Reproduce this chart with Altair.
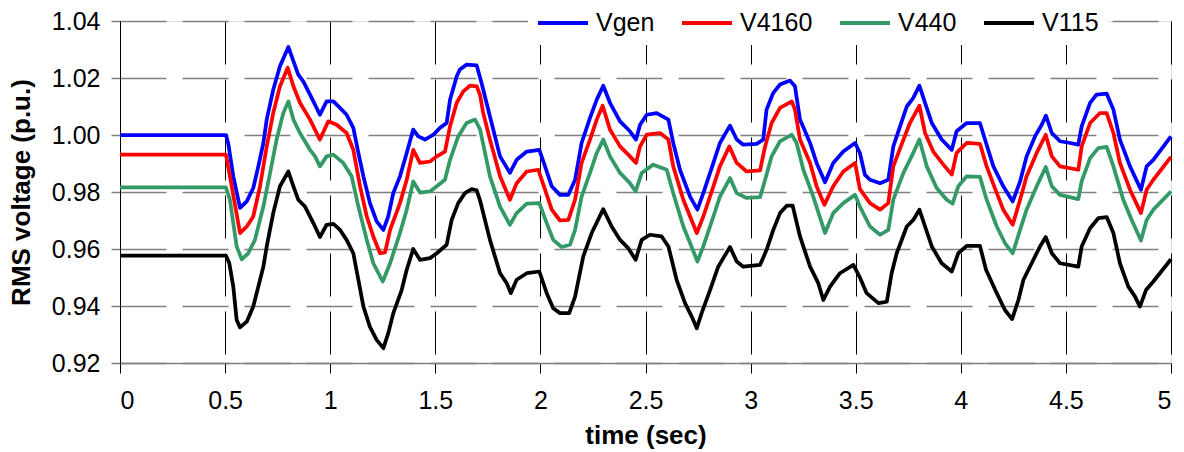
import altair as alt
import pandas as pd

series = ["Vgen", "V4160", "V440", "V115"]
colors = ["#0000FF", "#FF0000", "#339966", "#000000"]

x_ticks = [0, 0.5, 1, 1.5, 2, 2.5, 3, 3.5, 4, 4.5, 5]
y_ticks = [0.92, 0.94, 0.96, 0.98, 1.00, 1.02, 1.04]

t_vgen = [0, 0.504, 0.515, 0.539, 0.571, 0.603, 0.634, 0.658, 0.682, 0.698, 0.729, 0.761, 0.801, 0.825, 0.848, 0.872, 0.920, 0.951, 0.983, 1.015, 1.047, 1.078, 1.110, 1.134, 1.158, 1.189, 1.221, 1.253, 1.276, 1.300, 1.332, 1.364, 1.395, 1.419, 1.451, 1.491, 1.522, 1.554, 1.570, 1.602, 1.617, 1.649, 1.697, 1.721, 1.760, 1.808, 1.855, 1.887, 1.935, 1.995, 2.022, 2.054, 2.093, 2.133, 2.165, 2.196, 2.236, 2.268, 2.299, 2.331, 2.379, 2.426, 2.455, 2.474, 2.506, 2.553, 2.609, 2.632, 2.664, 2.712, 2.747, 2.775, 2.823, 2.854, 2.902, 2.934, 2.965, 3.029, 3.060, 3.076, 3.108, 3.140, 3.187, 3.211, 3.235, 3.283, 3.314, 3.354, 3.393, 3.441, 3.497, 3.520, 3.544, 3.568, 3.616, 3.655, 3.679, 3.711, 3.743, 3.774, 3.803, 3.830, 3.862, 3.909, 3.957, 3.980, 4.028, 4.091, 4.115, 4.155, 4.202, 4.247, 4.282, 4.313, 4.353, 4.385, 4.405, 4.433, 4.472, 4.520, 4.559, 4.575, 4.615, 4.646, 4.694, 4.726, 4.757, 4.805, 4.857, 4.884, 4.916, 5.0]
v_vgen = [1.000, 1.000, 0.997, 0.9855, 0.9744, 0.9767, 0.9814, 0.989, 0.9972, 1.0054, 1.0159, 1.0241, 1.0309, 1.0259, 1.0212, 1.0188, 1.0118, 1.0071, 1.0118, 1.0118, 1.0095, 1.0071, 1.0025, 0.9937, 0.9855, 0.9761, 0.9697, 0.9667, 0.9714, 0.9796, 0.9855, 0.9937, 1.0019, 0.9995, 0.9984, 1.0001, 1.0025, 1.0042, 1.0124, 1.0206, 1.0230, 1.0247, 1.0244, 1.0180, 1.0065, 0.9925, 0.9867, 0.9913, 0.9942, 0.9948, 0.9890, 0.9820, 0.9790, 0.9790, 0.9843, 0.9972, 1.0060, 1.0124, 1.0173, 1.0113, 1.0048, 1.0013, 0.9984, 1.0036, 1.0071, 1.0077, 1.0054, 0.9972, 0.9878, 0.9784, 0.9738, 0.9796, 0.9902, 0.9972, 1.0033, 0.9984, 0.9966, 0.9969, 0.9984, 1.0089, 1.0148, 1.0177, 1.0191, 1.0171, 1.0054, 0.9972, 0.9902, 0.9834, 0.9902, 0.9942, 0.9972, 0.9937, 0.9860, 0.9843, 0.9831, 0.9843, 0.9960, 1.0030, 1.0100, 1.0130, 1.0173, 1.0113, 1.0042, 0.9984, 0.9948, 1.0013, 1.0042, 1.0042, 0.9984, 0.9890, 0.9820, 0.9767, 0.9837, 0.9925, 0.9995, 1.0036, 1.0068, 1.0007, 0.9978, 0.9972, 0.9966, 1.0030, 1.0113, 1.0142, 1.0145, 1.0089, 0.9984, 0.9890, 0.9808, 0.9890, 0.9913, 0.9995]

t_v4160 = [0, 0.504, 0.523, 0.571, 0.603, 0.634, 0.666, 0.698, 0.729, 0.761, 0.798, 0.825, 0.856, 0.904, 0.951, 0.991, 1.031, 1.078, 1.110, 1.142, 1.174, 1.205, 1.237, 1.261, 1.285, 1.332, 1.364, 1.395, 1.427, 1.475, 1.507, 1.546, 1.570, 1.602, 1.633, 1.665, 1.697, 1.713, 1.728, 1.760, 1.808, 1.855, 1.887, 1.935, 1.990, 2.022, 2.054, 2.093, 2.133, 2.165, 2.196, 2.236, 2.268, 2.296, 2.331, 2.379, 2.426, 2.455, 2.474, 2.506, 2.569, 2.609, 2.632, 2.680, 2.712, 2.744, 2.775, 2.823, 2.854, 2.899, 2.934, 2.981, 3.045, 3.069, 3.100, 3.140, 3.196, 3.211, 3.235, 3.283, 3.314, 3.351, 3.393, 3.441, 3.497, 3.520, 3.568, 3.616, 3.655, 3.679, 3.727, 3.758, 3.803, 3.830, 3.869, 3.917, 3.957, 3.980, 4.028, 4.091, 4.123, 4.171, 4.202, 4.247, 4.282, 4.313, 4.361, 4.404, 4.433, 4.472, 4.559, 4.575, 4.615, 4.662, 4.694, 4.726, 4.757, 4.805, 4.857, 4.884, 4.916, 5.0]
v_v4160 = [0.9931, 0.9931, 0.9855, 0.9656, 0.9679, 0.9714, 0.9820, 0.9960, 1.0077, 1.0171, 1.0236, 1.0171, 1.0113, 1.0054, 0.9984, 1.0048, 1.0036, 1.0007, 0.9948, 0.9820, 0.9714, 0.9644, 0.9585, 0.9588, 0.9667, 0.9761, 0.9843, 0.9948, 0.9902, 0.9907, 0.9925, 0.9942, 1.0030, 1.0113, 1.0153, 1.0173, 1.0171, 1.0140, 1.0077, 0.9984, 0.9855, 0.9773, 0.9831, 0.9872, 0.9878, 0.9808, 0.9738, 0.9700, 0.9702, 0.9773, 0.9902, 0.9984, 1.0054, 1.0103, 1.0019, 0.9960, 0.9925, 0.9902, 0.9960, 1.0001, 1.0007, 0.9984, 0.9890, 0.9773, 0.9714, 0.9656, 0.9714, 0.9820, 0.9890, 0.9960, 0.9902, 0.9872, 0.9876, 0.9960, 1.0042, 1.0095, 1.0118, 1.0089, 0.9984, 0.9902, 0.9820, 0.9755, 0.9820, 0.9872, 0.9902, 0.9810, 0.9761, 0.9738, 0.9761, 0.9890, 0.9984, 1.0042, 1.0103, 1.0007, 0.9942, 0.9896, 0.9861, 0.9937, 0.9972, 0.9969, 0.9890, 0.9796, 0.9738, 0.9685, 0.9773, 0.9855, 0.9937, 1.0001, 0.9925, 0.9890, 0.9878, 0.9960, 1.0042, 1.0077, 1.0077, 1.0007, 0.9902, 0.9808, 0.9726, 0.9808, 0.9843, 0.9923]

t_v440 = [0, 0.504, 0.523, 0.555, 0.579, 0.610, 0.642, 0.682, 0.714, 0.745, 0.777, 0.801, 0.825, 0.856, 0.904, 0.928, 0.951, 0.983, 1.015, 1.062, 1.102, 1.134, 1.174, 1.205, 1.250, 1.285, 1.332, 1.364, 1.395, 1.427, 1.475, 1.507, 1.546, 1.570, 1.609, 1.649, 1.689, 1.713, 1.760, 1.808, 1.855, 1.887, 1.935, 1.995, 2.030, 2.061, 2.101, 2.141, 2.165, 2.196, 2.236, 2.268, 2.299, 2.331, 2.379, 2.426, 2.453, 2.482, 2.537, 2.601, 2.632, 2.680, 2.712, 2.747, 2.775, 2.823, 2.854, 2.902, 2.934, 2.981, 3.045, 3.069, 3.100, 3.140, 3.196, 3.219, 3.251, 3.298, 3.354, 3.393, 3.441, 3.497, 3.520, 3.568, 3.616, 3.655, 3.679, 3.727, 3.766, 3.803, 3.838, 3.885, 3.933, 3.961, 3.988, 4.028, 4.091, 4.123, 4.171, 4.210, 4.247, 4.282, 4.313, 4.361, 4.404, 4.433, 4.472, 4.559, 4.575, 4.615, 4.654, 4.694, 4.726, 4.773, 4.813, 4.857, 4.884, 4.916, 5.0]
v_v440 = [0.9816, 0.9816, 0.9773, 0.9609, 0.9564, 0.9585, 0.9632, 0.9749, 0.9867, 0.9984, 1.0077, 1.0118, 1.0054, 1.0007, 0.9948, 0.9925, 0.9890, 0.9925, 0.9931, 0.9902, 0.9855, 0.9749, 0.9632, 0.9550, 0.9486, 0.9550, 0.9656, 0.9738, 0.9837, 0.9798, 0.9802, 0.9820, 0.9843, 0.9913, 0.9995, 1.0042, 1.0054, 1.0020, 0.9855, 0.9749, 0.9685, 0.9726, 0.9759, 0.9761, 0.9691, 0.9632, 0.9607, 0.9615, 0.9667, 0.9784, 0.9867, 0.9937, 0.9984, 0.9925, 0.9867, 0.9831, 0.9802, 0.9867, 0.9896, 0.9878, 0.9796, 0.9679, 0.9621, 0.9556, 0.9609, 0.9714, 0.9784, 0.9849, 0.9796, 0.9779, 0.9782, 0.9843, 0.9925, 0.9978, 1.0001, 0.9972, 0.9878, 0.9784, 0.9656, 0.9726, 0.9761, 0.9790, 0.9749, 0.9679, 0.9650, 0.9667, 0.9773, 0.9867, 0.9925, 0.9984, 0.9890, 0.9814, 0.9773, 0.9759, 0.9820, 0.9855, 0.9853, 0.9773, 0.9679, 0.9621, 0.9585, 0.9667, 0.9738, 0.9820, 0.9888, 0.9820, 0.9790, 0.9775, 0.9837, 0.9919, 0.9954, 0.9958, 0.9890, 0.9773, 0.9702, 0.9630, 0.9702, 0.9738, 0.9802]

t_v115 = [0, 0.504, 0.520, 0.539, 0.555, 0.571, 0.603, 0.634, 0.658, 0.682, 0.698, 0.729, 0.761, 0.801, 0.825, 0.848, 0.880, 0.920, 0.951, 0.983, 1.015, 1.047, 1.078, 1.110, 1.134, 1.158, 1.189, 1.221, 1.253, 1.276, 1.300, 1.340, 1.364, 1.395, 1.427, 1.475, 1.507, 1.554, 1.578, 1.609, 1.641, 1.673, 1.697, 1.713, 1.760, 1.808, 1.840, 1.859, 1.887, 1.935, 1.995, 2.030, 2.061, 2.093, 2.137, 2.165, 2.204, 2.244, 2.299, 2.339, 2.379, 2.418, 2.453, 2.482, 2.521, 2.577, 2.609, 2.648, 2.688, 2.720, 2.744, 2.767, 2.807, 2.846, 2.875, 2.902, 2.934, 2.965, 3.045, 3.076, 3.108, 3.140, 3.172, 3.200, 3.235, 3.283, 3.322, 3.346, 3.378, 3.425, 3.489, 3.520, 3.552, 3.608, 3.648, 3.671, 3.695, 3.743, 3.774, 3.803, 3.830, 3.862, 3.909, 3.957, 3.988, 4.028, 4.091, 4.120, 4.171, 4.210, 4.244, 4.274, 4.298, 4.337, 4.377, 4.404, 4.433, 4.472, 4.559, 4.575, 4.615, 4.654, 4.694, 4.726, 4.757, 4.797, 4.829, 4.852, 4.881, 4.916, 5.0]
v_v115 = [0.9577, 0.9577, 0.9550, 0.9468, 0.9351, 0.9325, 0.9345, 0.9398, 0.9468, 0.9538, 0.9609, 0.9726, 0.9820, 0.9872, 0.9820, 0.9773, 0.9749, 0.9691, 0.9642, 0.9685, 0.9688, 0.9667, 0.9632, 0.9585, 0.9492, 0.9398, 0.9327, 0.9281, 0.9252, 0.9304, 0.9374, 0.9456, 0.9527, 0.9600, 0.9562, 0.9568, 0.9585, 0.9615, 0.9702, 0.9761, 0.9796, 0.9810, 0.9806, 0.9770, 0.9632, 0.9515, 0.9480, 0.9445, 0.9492, 0.9515, 0.9521, 0.9445, 0.9392, 0.9375, 0.9375, 0.9433, 0.9574, 0.9656, 0.9740, 0.9679, 0.9632, 0.9603, 0.9562, 0.9632, 0.9650, 0.9644, 0.9609, 0.9492, 0.9410, 0.9363, 0.9322, 0.9375, 0.9456, 0.9538, 0.9574, 0.9607, 0.9556, 0.9538, 0.9544, 0.9597, 0.9667, 0.9726, 0.9752, 0.9752, 0.9644, 0.9538, 0.9480, 0.9421, 0.9468, 0.9515, 0.9544, 0.9500, 0.9445, 0.9410, 0.9415, 0.9515, 0.9585, 0.9679, 0.9702, 0.9738, 0.9679, 0.9609, 0.9550, 0.9521, 0.9585, 0.9611, 0.9611, 0.9527, 0.9445, 0.9386, 0.9354, 0.9421, 0.9492, 0.9550, 0.9609, 0.9642, 0.9585, 0.9550, 0.9538, 0.9609, 0.9673, 0.9708, 0.9712, 0.9656, 0.9550, 0.9468, 0.9433, 0.9398, 0.9456, 0.9486, 0.9564]

rows = []
for name, ts, vs in [("Vgen", t_vgen, v_vgen), ("V4160", t_v4160, v_v4160),
                     ("V440", t_v440, v_v440), ("V115", t_v115, v_v115)]:
    for i, (t, v) in enumerate(zip(ts, vs)):
        rows.append({"series": name, "t": t, "v": v, "idx": i})
df = pd.DataFrame(rows)

FONT = "Liberation Sans"

chart = alt.Chart(df).mark_line(strokeWidth=3.75, strokeJoin="round").encode(
    x=alt.X("t:Q", scale=alt.Scale(domain=[0, 5], nice=False),
            axis=alt.Axis(values=x_ticks, format="~g", title="time (sec)",
                          grid=True, gridColor="#000000", gridDash=[43, 15], gridWidth=1,
                          domainColor="#808080", domainWidth=1.5,
                          tickColor="#000000", tickSize=10, tickWidth=1,
                          labelFont=FONT, labelFontSize=25, labelColor="#000000", labelPadding=15,
                          titleFont=FONT, titleFontSize=26, titleFontWeight="bold", titleColor="#000000",
                          titleY=72, titleBaseline="middle")),
    y=alt.Y("v:Q", scale=alt.Scale(domain=[0.92, 1.04], nice=False, zero=False),
            axis=alt.Axis(values=y_ticks, format=".2f", title="RMS voltage (p.u.)",
                          grid=True, gridColor="#808080", gridDash=[46, 16], gridWidth=1.5,
                          domainColor="#000000", domainWidth=1,
                          tickColor="#808080", tickSize=9, tickWidth=1.5,
                          labelFont=FONT, labelFontSize=25, labelColor="#000000", labelPadding=11,
                          titleFont=FONT, titleFontSize=26, titleFontWeight="bold", titleColor="#000000",
                          titleX=-99, titleY=171, titleAngle=270, titleBaseline="middle", titleAlign="center")),
    color=alt.Color("series:N", scale=alt.Scale(domain=series, range=colors),
                    legend=alt.Legend(orient="none", legendX=408, legendY=-33, direction="horizontal",
                                      title=None, symbolType="stroke", symbolSize=2500,
                                      symbolStrokeWidth=4, labelFont=FONT, labelFontSize=25,
                                      labelColor="#000000", labelOffset=6, columnPadding=19,
                                      fillColor="#FFFFFF", padding=8, strokeColor="#FFFFFF")),
    order=alt.Order("idx:Q"),
).properties(
    width=1051, height=342,
    autosize=alt.AutoSizeParams(type="none"),
    padding={"left": 120, "top": 21, "right": 13, "bottom": 89},
).configure_view(stroke=None).configure(background="#FFFFFF")

chart.save("out.html", embed_options={"renderer": "svg", "actions": False})
